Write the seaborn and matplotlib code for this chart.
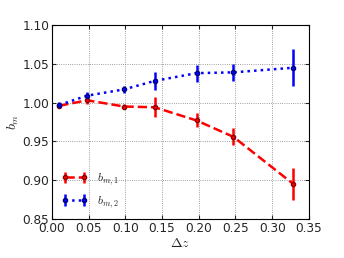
import matplotlib
matplotlib.use("Agg")
import matplotlib.pyplot as plt
import seaborn as sns

# data
dz = [0.010, 0.048, 0.098, 0.140, 0.197, 0.247, 0.329]
bm1 = [0.996, 1.003, 0.995, 0.994, 0.977, 0.956, 0.895]
bm1_err = [0.003, 0.005, 0.003, 0.013, 0.009, 0.011, 0.021]
bm2 = [0.997, 1.009, 1.017, 1.028, 1.038, 1.039, 1.045]
bm2_err = [0.004, 0.005, 0.004, 0.012, 0.011, 0.011, 0.024]

sns.set_style("ticks")
plt.rcParams["font.family"] = ["DejaVu Sans"]
plt.rcParams["mathtext.fontset"] = "cm"

fig, ax = plt.subplots(figsize=(3.44, 2.58), dpi=100)
fig.subplots_adjust(left=0.151, right=0.898, top=0.903, bottom=0.151)

ax.errorbar(dz, bm1, yerr=bm1_err, fmt="o", ls="--", color="red", mec="darkred",
            ms=3, lw=1.8, elinewidth=1.8, label=r"$b_{m,1}$")
ax.errorbar(dz, bm2, yerr=bm2_err, fmt="o", ls=":", color="blue", mec="navy",
            ms=3, lw=1.8, elinewidth=1.8, label=r"$b_{m,2}$")

ax.set_xlim(0, 0.35)
ax.set_ylim(0.85, 1.10)
ax.set_xticks([0.0, 0.05, 0.10, 0.15, 0.20, 0.25, 0.30, 0.35])
ax.set_yticks([0.85, 0.90, 0.95, 1.00, 1.05, 1.10])
ax.xaxis.set_major_formatter(matplotlib.ticker.FormatStrFormatter("%.2f"))
ax.yaxis.set_major_formatter(matplotlib.ticker.FormatStrFormatter("%.2f"))
ax.grid(True, color="gray", ls=":", lw=0.6)
ax.tick_params(direction="in", top=True, right=True, labelsize=8.7, length=3, pad=2)
for s in ax.spines.values():
    s.set_linewidth(0.8)
    s.set_color("black")

ax.set_xlabel(r"$\Delta z$", fontsize=10, labelpad=1)
ax.set_ylabel(r"$b_m$", fontsize=10, labelpad=1)
ax.legend(loc="lower left", frameon=False, numpoints=2, fontsize=8.5,
          handlelength=2.2, borderaxespad=0.4, labelspacing=0.55)

fig.savefig("out.png", dpi=100)
